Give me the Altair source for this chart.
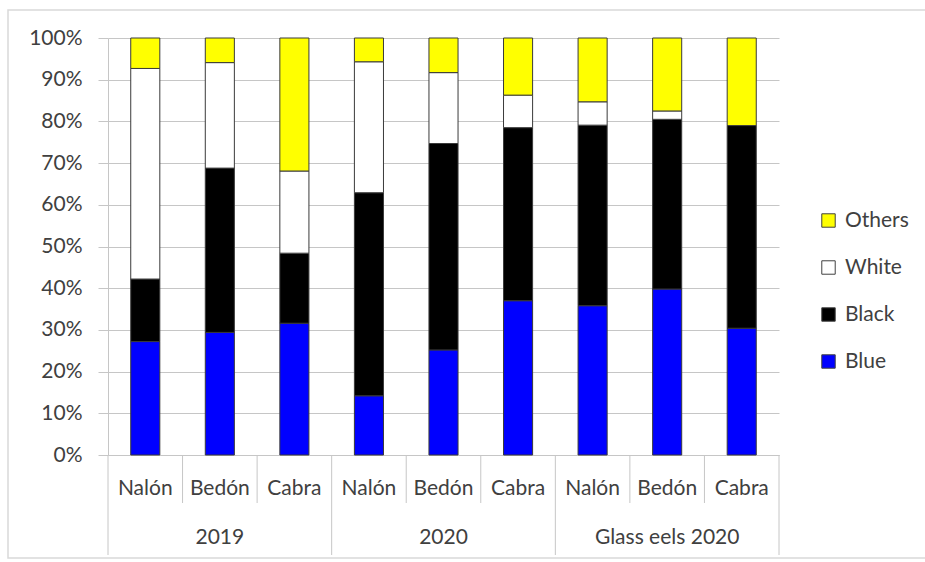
import altair as alt
import pandas as pd

# Sampling groups and river sites (x-axis hierarchy)
groups = ["2019", "2020", "Glass eels 2020"]
sites = ["Nalón", "Bedón", "Cabra"]

# Colour-class shares per bar, in percent (order: 2019 x3, 2020 x3, glass eels x3)
blue = [27.2, 29.4, 31.6, 14.2, 25.2, 37.0, 35.8, 39.8, 30.4]
black = [15.0, 39.4, 16.8, 48.7, 49.5, 41.5, 43.3, 40.7, 48.6]
white = [50.5, 25.3, 19.7, 31.4, 17.0, 7.8, 5.6, 2.0, 0.0]
others = [7.3, 5.9, 31.9, 5.7, 8.3, 13.7, 15.3, 17.5, 21.0]

classes = ["Others", "White", "Black", "Blue"]
class_colors = ["#FFFF00", "#FFFFFF", "#000000", "#0000FF"]
stack_rank = {"Blue": 0, "Black": 1, "White": 2, "Others": 3}

FONT = "Lato"
TXT = "#404040"
GRID = "#c6c6c6"

keys, key_site, key_group = [], [], []
for g in groups:
    for s in sites:
        keys.append(f"{g}|{s}")
        key_site.append(s)
        key_group.append(g)

rows = []
series = {"Blue": blue, "Black": black, "White": white, "Others": others}
for cls, vals in series.items():
    for k, v in zip(keys, vals):
        if v > 0:
            rows.append({"key": k, "cls": cls, "pct": v, "rank": stack_rank[cls]})
bars_df = pd.DataFrame(rows)

cats_df = pd.DataFrame({"key": keys, "site": key_site, "group": key_group})
mid_df = cats_df.iloc[[1, 4, 7]]
long_start_df = cats_df.iloc[[0, 3, 6]]
short_df = cats_df.iloc[[1, 2, 4, 5, 7, 8]]
last_df = cats_df.iloc[[8]]

W, H = 671, 417

# Each category occupies a full band; the bar fills 39% of it
xscale = alt.Scale(domain=keys, paddingInner=0, paddingOuter=0)

bars = alt.Chart(bars_df).mark_bar(
    stroke="#3a3a3a", strokeWidth=1, width=alt.RelativeBandSize(0.39)
).encode(
    x=alt.X("key:N", scale=xscale, sort=keys,
            axis=alt.Axis(title=None, labels=False, ticks=False, domain=True,
                          domainColor=GRID, domainWidth=1, grid=False)),
    y=alt.Y("pct:Q", stack="zero",
            scale=alt.Scale(domain=[0, 100], nice=False),
            axis=alt.Axis(title=None, values=list(range(0, 101, 10)),
                          labelExpr="datum.value + '%'",
                          grid=True, gridColor=GRID, gridWidth=1,
                          domain=True, domainColor=GRID, domainWidth=1,
                          ticks=True, tickColor=GRID, tickSize=10, tickWidth=1,
                          labelFont=FONT, labelFontSize=21, labelColor=TXT,
                          labelPadding=16)),
    color=alt.Color("cls:N",
                    scale=alt.Scale(domain=classes, range=class_colors),
                    legend=alt.Legend(title=None, orient="none",
                                      legendX=710, legendY=172,
                                      symbolType="square", symbolSize=180,
                                      symbolStrokeColor="#404040",
                                      symbolStrokeWidth=1,
                                      labelFont=FONT, labelFontSize=21,
                                      labelColor=TXT, labelOffset=6,
                                      rowPadding=25)),
    order=alt.Order("rank:Q", sort="ascending"),
)

# Frame around the whole chart
frame = alt.Chart(pd.DataFrame({"a": [0]})).mark_rect(
    fill=None, stroke="#d9d9d9", strokeWidth=1.5
).encode(x=alt.value(-100), x2=alt.value(850), y=alt.value(-28), y2=alt.value(520))

site_text = alt.Chart(cats_df).mark_text(
    font=FONT, fontSize=21, color=TXT, baseline="middle"
).encode(x=alt.X("key:N", sort=keys), y=alt.value(451), text="site:N")

group_text = alt.Chart(mid_df).mark_text(
    font=FONT, fontSize=21, color=TXT, baseline="middle"
).encode(x=alt.X("key:N", sort=keys), y=alt.value(500), text="group:N")

short_div = alt.Chart(short_df).mark_rule(color=GRID, strokeWidth=1).encode(
    x=alt.X("key:N", sort=keys, bandPosition=0), y=alt.value(H), y2=alt.value(H + 48))

long_div = alt.Chart(long_start_df).mark_rule(color=GRID, strokeWidth=1).encode(
    x=alt.X("key:N", sort=keys, bandPosition=0), y=alt.value(H), y2=alt.value(H + 100))

end_div = alt.Chart(last_df).mark_rule(color=GRID, strokeWidth=1).encode(
    x=alt.X("key:N", sort=keys, bandPosition=1), y=alt.value(H), y2=alt.value(H + 100))

chart = alt.layer(frame, bars, short_div, long_div, end_div, site_text, group_text).properties(
    width=W, height=H,
    autosize=alt.AutoSizeParams(type="none"),
    padding={"left": 108, "top": 38, "right": 925 - 108 - W, "bottom": 562 - 38 - H},
    background="white",
).configure_view(stroke=None)

chart.save("out.html", embed_options={"renderer": "svg", "actions": False})
